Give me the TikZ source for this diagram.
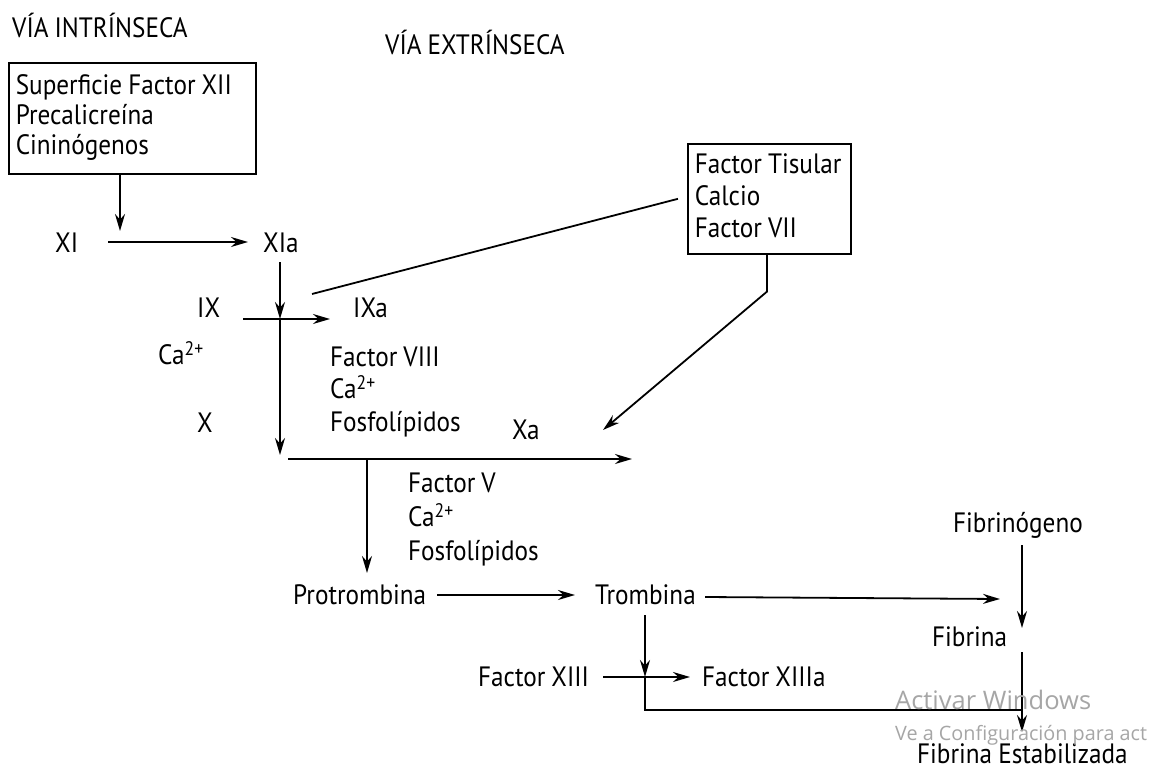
\documentclass[tikz,border=0pt]{standalone}
\usepackage{fontspec}
\setmainfont{PT Sans}[FakeStretch=0.9, WordSpace=0.9]
\newfontfamily\wmfont{Open Sans}
\usetikzlibrary{arrows.meta,calc}
\begin{document}
\begin{tikzpicture}[x=1pt,y=-1pt,
  lbl/.style={inner sep=0pt, anchor=west, text height=19.6pt, text depth=0pt, font=\fontsize{28}{32}\selectfont},
  boxn/.style={draw, line width=1.6pt, anchor=north west, inner xsep=7pt, inner ysep=0pt},
  arr/.style={line width=1.8pt, -{Stealth[length=17pt,width=10pt]}},
  ln/.style={line width=1.8pt},
  wm/.style={inner sep=0pt, anchor=west, text=black!35, font=\wmfont}]
\useasboundingbox (0,0) rectangle (1152,771);
\fill[white] (0,0) rectangle (1152,771);

% titles
\node[lbl] (via1) at (12,28) {VÍA INTRÍNSECA};
\node[lbl] (via2) at (385,45) {VÍA EXTRÍNSECA};

% boxes
\node[boxn, minimum width=247pt, minimum height=111pt,
  font=\fontsize{28}{30}\selectfont] (box1) at (8,62)
  {\makebox[233pt][l]{\begin{tabular}{@{}l@{}}Superficie Factor XII\\Precalicreína\\Cininógenos\end{tabular}}};
\node[boxn, minimum width=163pt, minimum height=110pt,
  font=\fontsize{28}{32}\selectfont] (box2) at (687,143)
  {\makebox[149pt][l]{\begin{tabular}{@{}l@{}}Factor Tisular\\Calcio\\Factor VII\end{tabular}}};

% labels
\node[lbl] (xi) at (55,243) {XI};
\node[lbl] (xia) at (263,243) {XIa};
\node[lbl] (ix) at (197,308) {IX};
\node[lbl] (ixa) at (353,308) {IXa};
\node[lbl] (ca1) at (158,355) {Ca\textsuperscript{2+}};
\node[lbl] (f8) at (330,357) {Factor VIII};
\node[lbl] (ca8) at (330,389) {Ca\textsuperscript{2+}};
\node[lbl] (fos8) at (330,422) {Fosfolípidos};
\node[lbl] (x) at (197,423) {X};
\node[lbl] (xa) at (512,430) {Xa};
\node[lbl] (f5) at (408,483) {Factor V};
\node[lbl] (ca5) at (408,517) {Ca\textsuperscript{2+}};
\node[lbl] (fos5) at (408,551) {Fosfolípidos};
\node[lbl] (pro) at (293,595) {Protrombina};
\node[lbl] (tro) at (595,595) {Trombina};
\node[lbl] (fbg) at (953,523) {Fibrinógeno};
\node[lbl] (fbn) at (932,637) {Fibrina};
\node[lbl] (f13) at (478,677) {Factor XIII};
\node[lbl] (f13a) at (702,677) {Factor XIIIa};
\node[lbl] (fbe) at (917,754) {Fibrina Estabilizada};

% junctions
\coordinate (j2) at (280,319);
\coordinate (j4) at (367,459);
\coordinate (j5) at (645,677);

% connectors
\draw[arr] ($(box1.south west)+(112,0)$) -- ($(xi.west)+(65,-12)$);
\draw[arr] ($(xi.west)+(53,-1)$) -- ($(xia.west)+(-15,-1)$);
\draw[arr] ($(xia.west)+(17,19)$) -- (j2);
\draw[arr] (j2) -- ($(x.west)+(83,32)$);
\draw[arr] ($(ix.west)+(46,11)$) -- ($(ixa.west)+(-23,11)$);
\draw[ln] ($(ixa.west)+(-41,-14)$) -- ($(box2.west)+(-9,0)$);
\draw[arr] ($(box2.south west)+(80,0)$) -- ++(0,37) -- ($(xa.west)+(91,0)$);
\draw[arr] ($(x.west)+(91,36)$) -- ($(xa.west)+(120,29)$);
\draw[arr] (j4) -- ($(pro.west)+(74,-22)$);
\draw[arr] ($(pro.west)+(144,0)$) -- ($(tro.west)+(-20,0)$);
\draw[arr] ($(tro.west)+(110,2)$) -- ($(fbn.west)+(68,-38)$);
\draw[arr] ($(fbg.west)+(69,22)$) -- ($(fbn.west)+(90,-9)$);
\draw[arr] ($(fbn.west)+(90,15)$) -- ($(fbe.west)+(105,-22)$);
\draw[arr] ($(tro.west)+(50,20)$) -- (j5);
\draw[ln] (j5) |- ($(fbe.west)+(105,-44)$);
\draw[arr] ($(f13.west)+(125,0)$) -- ($(f13a.west)+(-12,0)$);

% watermark
\node[wm, font=\wmfont\fontsize{25.5}{30}\selectfont] (wm1) at (895,700) {Activar Windows};
\node[wm, font=\wmfont\fontsize{19.8}{22}\selectfont] (wm2) at (895,735) {Ve a Configuración para act};
\end{tikzpicture}
\end{document}
